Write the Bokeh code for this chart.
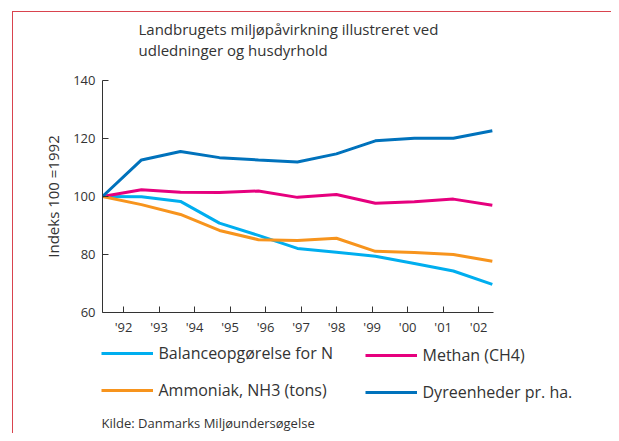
from bokeh.plotting import figure
from bokeh.models import Range1d, FixedTicker, Legend, LegendItem, Label
from bokeh.layouts import column
from bokeh.embed import file_html
from bokeh.resources import INLINE

# ---- data ----
years = ["'92", "'93", "'94", "'95", "'96", "'97", "'98", "'99", "'00", "'01", "'02"]
idx = list(range(len(years)))
balance_n = [100, 99.9, 98.3, 90.8, 86.6, 82.1, 80.8, 79.4, 76.9, 74.3, 69.7]
methan = [100, 102.3, 101.5, 101.4, 101.9, 99.7, 100.7, 97.7, 98.2, 99.1, 97.0]
ammoniak = [100, 97.2, 93.8, 88.3, 85.1, 84.8, 85.6, 81.1, 80.7, 80.0, 77.7]
dyreenheder = [100, 112.6, 115.5, 113.4, 112.6, 111.9, 114.7, 119.2, 120.1, 120.1, 122.7]
y_ticks = [60, 80, 100, 120, 140]

title_lines = ["Landbrugets miljøpåvirkning illustreret ved", "udledninger og husdyrhold"]
source_text = "Kilde: Danmarks Miljøundersøgelse"
y_label = "Indeks 100 =1992"
series_names = ["Balanceopgørelse for N", "Methan (CH4)", "Ammoniak, NH3 (tons)", "Dyreenheder pr. ha."]

FONT = "Open Sans"
TXT = "#333333"
C_BAL = "#00aeef"
C_MET = "#e6007e"
C_AMM = "#f7941d"
C_DYR = "#0072bc"
RED = "#d9434e"

W = 598
T_H = 56
P_H = 12 + 232 + 28
Q_H = 93


def blank(h):
    f = figure(width=W, height=h, output_backend="svg", toolbar_location=None,
               x_range=Range1d(0, 1), y_range=Range1d(0, 1),
               min_border=0, x_axis_type=None, y_axis_type=None)
    f.frame_align = False
    f.outline_line_color = None
    f.grid.visible = False
    f.background_fill_color = "white"
    f.border_fill_color = "white"
    return f


# ---------------- title ----------------
t = blank(T_H)
for i, line in enumerate(title_lines):
    t.add_layout(Label(x=125, y=T_H - 16 - 21 * i, x_units="screen", y_units="screen",
                       text=line, text_font=FONT, text_font_size="15px", text_color=TXT,
                       text_baseline="alphabetic"))

# ---------------- main chart ----------------
p = figure(width=W, height=P_H, output_backend="svg", toolbar_location=None,
           x_range=Range1d(0, 10.03), y_range=Range1d(60, 140),
           min_border_left=89, min_border_right=118, min_border_top=12, min_border_bottom=28,
           frame_width=391, frame_height=232)
p.frame_align = False
p.outline_line_color = None
p.grid.visible = False
p.background_fill_color = "white"
p.border_fill_color = "white"

# x ticks are offset from the data points in the original
tick_pos = [0.540 + 0.911 * k for k in range(len(years))]
p.xaxis.ticker = FixedTicker(ticks=tick_pos)
p.xaxis.major_label_overrides = {tp: lab for tp, lab in zip(tick_pos, years)}
p.yaxis.ticker = FixedTicker(ticks=y_ticks)

for ax in (p.xaxis[0], p.yaxis[0]):
    ax.axis_line_color = TXT
    ax.major_tick_line_color = TXT
    ax.major_tick_in = 6
    ax.major_tick_out = 0
    ax.minor_tick_line_color = None
    ax.major_label_text_font = FONT
    ax.major_label_text_font_size = "13px"
    ax.major_label_text_color = TXT
p.xaxis.major_label_standoff = 5
p.yaxis.major_label_standoff = 7
p.yaxis.axis_label = y_label
p.yaxis.axis_label_text_font = FONT
p.yaxis.axis_label_text_font_style = "normal"
p.yaxis.axis_label_text_font_size = "15px"
p.yaxis.axis_label_text_color = TXT
p.yaxis.axis_label_standoff = 7

p.line(idx, balance_n, line_color=C_BAL, line_width=3)
p.line(idx, methan, line_color=C_MET, line_width=3)
p.line(idx, ammoniak, line_color=C_AMM, line_width=3)
p.line(idx, dyreenheder, line_color=C_DYR, line_width=3)

# ---------------- legend + source ----------------
q = blank(Q_H)
colors = [C_BAL, C_MET, C_AMM, C_DYR]
rs = [q.line([-2, -1], [-2, -2], line_color=c, line_width=3) for c in colors]


def make_legend(items, loc):
    lg = Legend(items=items, location=loc, orientation="vertical",
                glyph_width=52, glyph_height=20, label_height=20,
                spacing=15, label_standoff=6, padding=0, margin=0,
                border_line_color=None, background_fill_alpha=0,
                label_text_font=FONT, label_text_font_size="16px", label_text_color=TXT)
    q.add_layout(lg, "center")


make_legend([LegendItem(label=series_names[0], renderers=[rs[0]]),
             LegendItem(label=series_names[2], renderers=[rs[2]])], (87.5, 32))
make_legend([LegendItem(label=series_names[1], renderers=[rs[1]]),
             LegendItem(label=series_names[3], renderers=[rs[3]])], (351.5, 30.5))

q.add_layout(Label(x=88, y=11, x_units="screen", y_units="screen", text=source_text,
                   text_font=FONT, text_font_size="13px", text_color=TXT,
                   text_baseline="middle"))

layout = column(t, p, q, spacing=0, margin=(11, 0, 0, 12),
                styles={"border-left": f"1px solid {RED}", "border-top": f"1px solid {RED}"})

open("out.html", "w").write(file_html(layout, INLINE))
